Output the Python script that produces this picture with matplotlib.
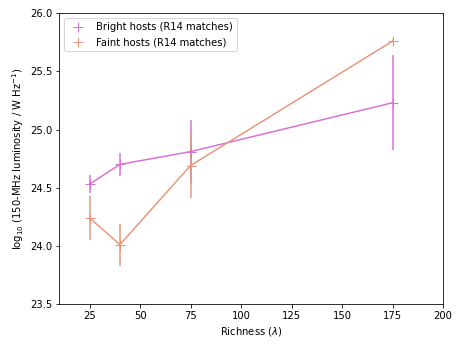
import matplotlib
matplotlib.use('Agg')
import matplotlib.pyplot as plt
from matplotlib.lines import Line2D

# richness bins
richness = [25, 40, 75, 175]

# bright hosts
bright_lum = [24.53, 24.70, 24.81, 25.23]
bright_err = [0.075, 0.10, 0.27, 0.41]

# faint hosts
faint_lum = [24.24, 24.01, 24.69, 25.76]
faint_err = [0.19, 0.18, 0.28, 0.02]

fig = plt.figure(figsize=(463 / 72, 347 / 72), dpi=72)
ax = fig.add_subplot(111)

ax.errorbar(richness, bright_lum, yerr=bright_err, color='orchid', marker='+',
            markersize=10)
ax.errorbar(richness, faint_lum, yerr=faint_err, color='darksalmon', marker='+',
            markersize=10)

ax.set_xlim(10, 200)
ax.set_ylim(23.5, 26.0)
ax.set_xticks([25, 50, 75, 100, 125, 150, 175, 200])
ax.set_xlabel(r'Richness ($\lambda$)')
ax.set_ylabel(r'log$_{10}$ (150-MHz luminosity / W Hz$^{-1}$)')

# legend shows markers only
handles = [Line2D([], [], color='orchid', marker='+', markersize=10, linestyle='none'),
           Line2D([], [], color='darksalmon', marker='+', markersize=10, linestyle='none')]
ax.legend(handles, ['Bright hosts (R14 matches)', 'Faint hosts (R14 matches)'],
          loc='upper left')

fig.subplots_adjust(left=0.128, right=0.957, top=0.962, bottom=0.124)
fig.savefig('out.png', dpi=72)
